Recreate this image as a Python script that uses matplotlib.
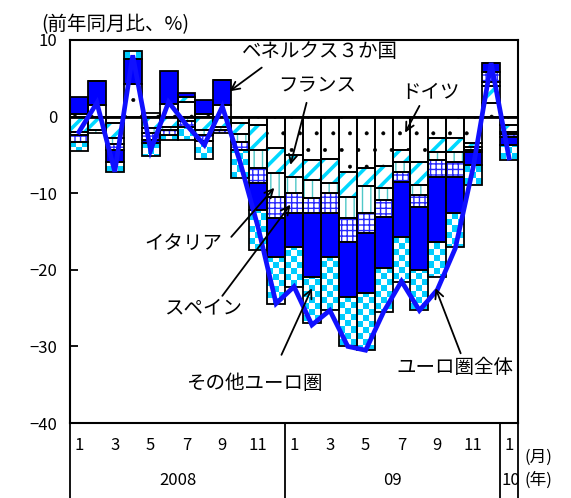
import numpy as np
import matplotlib.pyplot as plt
import matplotlib.transforms as mtransforms
from matplotlib.colors import ListedColormap

plt.rcParams['font.family'] = ['Noto Sans CJK JP', 'DejaVu Sans']

# months 2008/1 .. 2010/1, contribution by country (% points)
months = [1, 2, 3, 4, 5, 6, 7, 8, 9, 10, 11, 12,
          1, 2, 3, 4, 5, 6, 7, 8, 9, 10, 11, 12, 1]
years = ["2008", "09", "10"]

germany = [0.4, 1.5, -0.8, 4.3, 0.5, 1.7, 1.9, 0.3, 1.5, -0.8, -1.1, -4.1, -5.0,
           -5.7, -5.5, -7.2, -6.7, -6.5, -4.3, -5.9, -2.8, -2.8, -3.5, 1.8, -1.1]
france = [-2.0, -1.7, -2.0, 0.0, -1.5, -1.3, 0.6, -1.7, -1.3, -1.5, -3.3, -3.3, -2.9,
          -2.6, -3.2, -3.3, -2.4, -2.8, -1.6, -3.0, -1.8, -1.8, -0.5, 2.2, -0.9]
italy = [-0.4, -0.5, -0.8, 0.0, -0.7, -0.5, -0.6, -0.7, -0.4, -1.0, -2.3, -3.1, -2.1,
         -2.3, -1.3, -2.8, -3.5, -1.6, -1.3, -1.3, -1.1, -1.3, -0.3, 0.5, -0.3]
spain = [-0.9, 0.0, -0.8, 0.0, -0.8, -0.6, -0.7, -0.8, -0.5, -1.0, -2.0, -2.8, -2.6,
         -2.0, -2.6, -3.1, -2.6, -2.2, -1.3, -1.6, -2.2, -2.0, -0.3, 1.3, -0.3]
benelux = [2.1, 3.2, -1.5, 3.2, -0.5, 4.3, 0.6, 1.9, 3.3, 0.0, -3.5, -5.0, -4.4,
           -8.3, -5.7, -7.2, -7.8, -6.7, -7.2, -8.2, -8.5, -4.7, -1.7, 1.2, -1.1]
others = [-1.2, 0.0, -1.3, 1.0, -1.6, -0.6, -1.7, -2.4, 0.0, -3.7, -5.2, -6.1, -5.2,
          -6.1, -7.0, -6.4, -7.5, -5.7, -5.9, -5.3, -4.5, -4.4, -2.6, 0.0, -2.0]
euro_total = [-2.0, 1.8, -7.2, 8.0, -4.4, 1.9, -1.1, -3.7, 1.3, -6.0, -14.5, -24.4, -22.2,
              -27.2, -25.3, -30.0, -30.5, -25.5, -21.5, -25.3, -22.6, -17.2, -6.6, 7.0, -5.4]

fig = plt.figure(figsize=(5.71, 4.98), dpi=100)
ax = fig.add_axes([70 / 571, 75 / 498, 448 / 571, 383 / 498])

n = len(months)
x = np.arange(n)

# (values, face, hatch, hatch colour, hatch linewidth)
series = [
    (germany, "white", ".", "black", 0.4),
    (france, "white", "//", "#00d8ff", 2.6),
    (italy, "white", "||", "#50c8c8", 1.0),
    (spain, "white", "+++", "#2828ff", 1.0),
    (benelux, "#0000ff", None, "#0000ff", 1.0),
    (others, "none", None, "none", 1.0),
]

pos_base = np.zeros(n)
neg_base = np.zeros(n)
checker = np.indices((64, 75)).sum(axis=0) % 2
cmap = ListedColormap(["white", "#00ccff"])

for vals, fc, hatch, hc, hlw in series:
    v = np.array(vals)
    base = np.where(v >= 0, pos_base, neg_base)
    plt.rcParams["hatch.linewidth"] = hlw
    fills = ax.bar(x, v, bottom=base, width=1.0, color=fc, edgecolor=hc,
                   hatch=hatch, linewidth=0, zorder=2)
    for p in fills:
        if hasattr(p, "set_hatch_linewidth"):
            p.set_hatch_linewidth(hlw)
    if vals is others:
        for p in fills:
            im = ax.imshow(checker, cmap=cmap, extent=(-0.5, 24.5, -40, 10),
                           interpolation="nearest", aspect="auto", zorder=2)
            im.set_clip_path(p)
    ax.bar(x, v, bottom=base, width=1.0, fill=False, edgecolor="black",
           linewidth=1.3, zorder=3)
    pos_base += np.where(v > 0, v, 0)
    neg_base += np.where(v < 0, v, 0)

ax.plot(x, euro_total, color="#1010ff", lw=3.4, zorder=5, solid_joinstyle="miter")
ax.axhline(0, color="black", lw=2, zorder=4)

ax.set_xlim(-0.5, 24.5)
ax.set_ylim(-40, 10)
ax.set_yticks(range(-40, 11, 10))
ax.set_xticks([])
ax.tick_params(axis="y", direction="in", length=6, width=1.3, labelsize=12, pad=9)
for s in ax.spines.values():
    s.set_linewidth(1.5)

# month / year labels under the frame
trans = mtransforms.blended_transform_factory(ax.transData, ax.transAxes)
for i, m in enumerate(months):
    if m % 2 == 1:
        ax.text(i, -0.058, str(m), transform=trans, ha="center", va="center", fontsize=12)
for xpos, yr in zip([5.5, 17.5, 24.1], years):
    ax.text(xpos, -0.15, yr, transform=trans, ha="center", va="center", fontsize=12)
for xv in [-0.5, 11.5, 23.5, 24.5]:
    ax.plot([xv, xv], [0, -0.2], transform=trans, color="black", lw=1.3, clip_on=False)
ax.text(24.85, -0.09, "(月)", transform=trans, ha="left", va="center", fontsize=12)
ax.text(24.85, -0.15, "(年)", transform=trans, ha="left", va="center", fontsize=12)
ax.text(-2.1, 10.6, "(前年同月比、%)", ha="left", va="bottom", fontsize=14)

arrow = dict(arrowstyle="->", color="black", lw=1.3, shrinkA=0, shrinkB=0,
             mutation_scale=15)
notes = [
    ("ベネルクス３か国", (13.45, 8.5), (10.2, 6.4), (8.4, 3.3)),
    ("フランス", (13.3, 4.0), (12.7, 1.8), (11.8, -6.3)),
    ("ドイツ", (19.6, 3.1), (19.0, 1.4), (18.2, -2.1)),
    ("イタリア", (5.8, -16.5), (8.5, -15.7), (10.9, -9.3)),
    ("スペイン", (6.9, -25.0), (8.0, -23.4), (11.8, -11.5)),
    ("その他ユーロ圏", (9.8, -34.8), (11.3, -31.1), (13.0, -22.4)),
    ("ユーロ圏全体", (21.0, -32.8), (21.3, -30.9), (19.9, -22.4)),
]
for label, tpos, start, tip in notes:
    ax.text(tpos[0], tpos[1], label, ha="center", va="center", fontsize=14, zorder=6)
    ax.annotate("", xy=tip, xytext=start, arrowprops=arrow, zorder=6)

fig.savefig("out.png", dpi=100)
